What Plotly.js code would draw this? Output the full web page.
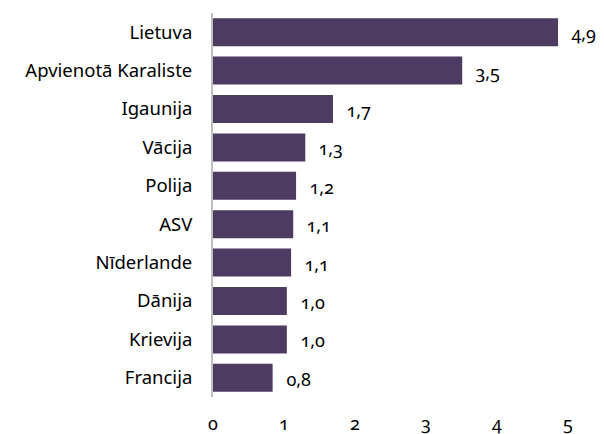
<!DOCTYPE html>
<html><head><meta charset="utf-8">
<script src="https://cdn.plot.ly/plotly-3.0.1.min.js"></script>
<style>
html,body{margin:0;padding:0;background:#fff;}
#chart{width:604px;height:434px;}
.main-svg text{font-variant-numeric:oldstyle-nums;font-feature-settings:"onum" 1;}
</style></head>
<body><div id="chart"></div>
<script>
var countries = ["Lietuva","Apvienotā Karaliste","Igaunija","Vācija","Polija","ASV","Nīderlande","Dānija","Krievija","Francija"];
var values = [4.86, 3.51, 1.69, 1.30, 1.17, 1.13, 1.10, 1.04, 1.04, 0.84];
var valueLabels = ["4,9","3,5","1,7","1,3","1,2","1,1","1,1","1,0","1,0","0,8"];
var xTicks = [0,1,2,3,4,5];

var fontFam = "'Noto Sans', 'Open Sans', sans-serif";
var trace = {
  type: 'bar', orientation: 'h',
  x: values, y: countries,
  marker: {color: '#4e3b61'},
  hoverinfo: 'none'
};
var annotations = countries.map(function(c, i){
  return {x: values[i], y: c, xref: 'x', yref: 'y', text: valueLabels[i],
    showarrow: false, xanchor: 'left', xshift: 11, yshift: -1,
    font: {family: fontFam, size: 18, color: '#000'}};
});
var layout = {
  width: 604, height: 434,
  margin: {l: 213, r: 36, t: 13, b: 37, pad: 0},
  paper_bgcolor: '#fff', plot_bgcolor: '#fff',
  showlegend: false,
  bargap: 0.27,
  font: {family: fontFam, size: 18, color: '#000'},
  xaxis: {range: [0, 5], tickvals: xTicks, ticktext: xTicks.map(String),
    showgrid: false, zeroline: false, showline: false,
    ticks: 'outside', ticklen: 10, tickcolor: 'rgba(0,0,0,0)',
    tickfont: {family: fontFam, size: 18, color: '#000'}, fixedrange: true},
  yaxis: {type: 'category', autorange: 'reversed', categoryorder: 'array', categoryarray: countries,
    showgrid: false, zeroline: false, showline: true, linecolor: '#bfbfbf', linewidth: 2,
    ticks: 'outside', ticklen: 15, tickcolor: 'rgba(0,0,0,0)',
    tickfont: {family: fontFam, size: 18.5, color: '#000'}, fixedrange: true},
  annotations: annotations
};
Plotly.newPlot('chart', [trace], layout, {displayModeBar: false, staticPlot: true});
</script></body></html>
